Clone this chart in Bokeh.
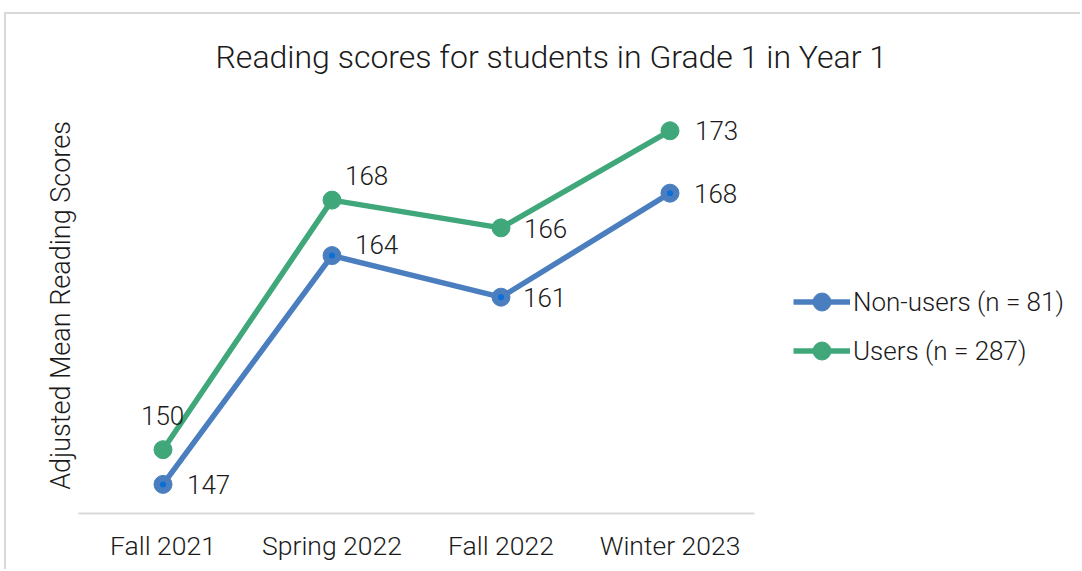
from bokeh.plotting import figure
from bokeh.models import Range1d, Legend, LegendItem, ColumnDataSource, FixedTicker
from bokeh.core.properties import value
from bokeh.embed import file_html
from bokeh.resources import INLINE

categories = ["Fall 2021", "Spring 2022", "Fall 2022", "Winter 2023"]
non_users = [147.1, 163.6, 160.6, 168.1]
users = [149.6, 167.6, 165.6, 172.6]
series_names = ["Non-users (n = 81)", "Users (n = 287)"]

# label placement (screen px offsets from the point; +dy = down)
nu_dx = [24, 23, 22, 24]
nu_dy = [0, -11, 0, 0]
us_dx = [-22, 13, 23, 25]
us_dy = [-34, -25, 1, 0]

BLUE = "#4A7EBF"
BLUE_DOT = "#0A6FD6"
GREEN = "#3FA77A"
FONT = "Roboto Light"
GRAY = "#D9D9D9"
TXT = "#1a1a1a"

W, H = 1076, 557
FRAME_L, FRAME_R = 72, 1072
CAT_PX = 169  # pixels per category slot
x_idx = list(range(len(categories)))
x_end = -0.5 + (FRAME_R - FRAME_L) / CAT_PX

p = figure(width=W, height=H, x_range=Range1d(-0.5, x_end),
           y_range=Range1d(145, 175), output_backend="svg", toolbar_location=None,
           min_border_left=FRAME_L, min_border_right=W - FRAME_R,
           min_border_top=83, min_border_bottom=58,
           styles={"transform": "translate(4px, 12px)",
                   "border-left": f"2px solid {GRAY}", "border-top": f"2px solid {GRAY}"})
p.outline_line_color = None
p.xgrid.visible = False
p.ygrid.visible = False

p.title.text = "Reading scores for students in Grade 1 in Year 1"
p.title.text_font = FONT
p.title.text_font_style = "normal"
p.title.text_font_size = "32px"
p.title.text_color = TXT
p.title.align = "left"
p.title.offset = 137
p.title.standoff = 43

xa = p.xaxis[0]
xa.ticker = FixedTicker(ticks=x_idx)
xa.major_label_overrides = {i: c for i, c in zip(x_idx, categories)}
xa.bounds = (-0.5, len(categories) - 0.5)
xa.axis_line_color = GRAY
xa.axis_line_width = 2
xa.major_tick_line_color = None
xa.minor_tick_line_color = None
xa.major_label_text_font = FONT
xa.major_label_text_font_size = "26.5px"
xa.major_label_text_color = TXT
xa.major_label_standoff = 10

ya = p.yaxis[0]
ya.ticker = FixedTicker(ticks=[])
ya.axis_line_color = None
ya.major_tick_line_color = None
ya.minor_tick_line_color = None
ya.major_label_standoff = 0
ya.axis_label = "Adjusted Mean Reading Scores"
ya.axis_label_text_font = FONT
ya.axis_label_text_font_style = "normal"
ya.axis_label_text_font_size = "27px"
ya.axis_label_text_color = TXT
ya.axis_label_standoff = 2

src_nu = ColumnDataSource(dict(x=x_idx, y=non_users,
                               t=[str(round(v)) for v in non_users], dx=nu_dx, dy=nu_dy))
src_us = ColumnDataSource(dict(x=x_idx, y=users,
                               t=[str(round(v)) for v in users], dx=us_dx, dy=us_dy))

l_nu = p.line("x", "y", source=src_nu, line_color=BLUE, line_width=5.5)
c_nu = p.scatter("x", "y", source=src_nu, size=18, fill_color=BLUE, line_color=BLUE)
d_nu = p.scatter("x", "y", source=src_nu, size=6, fill_color=BLUE_DOT, line_color=None)

l_us = p.line("x", "y", source=src_us, line_color=GREEN, line_width=5.5)
c_us = p.scatter("x", "y", source=src_us, size=18, fill_color=GREEN, line_color=GREEN)

for src in (src_nu, src_us):
    p.text("x", "y", text="t", source=src, x_offset="dx", y_offset="dy",
           text_align="left", text_baseline="middle", text_font=value(FONT),
           text_font_size="26px", text_color=TXT)

legend = Legend(items=[LegendItem(label=series_names[0], renderers=[l_nu, c_nu]),
                       LegendItem(label=series_names[1], renderers=[l_us, c_us])],
                location=(715, 140), orientation="vertical",
                glyph_width=57, glyph_height=45, label_height=30, spacing=4,
                label_standoff=3, padding=0, margin=0,
                label_text_font=FONT, label_text_font_size="26px", label_text_color=TXT,
                border_line_color=None, background_fill_alpha=0)
p.add_layout(legend, "center")

open("out.html", "w").write(file_html(p, INLINE))
